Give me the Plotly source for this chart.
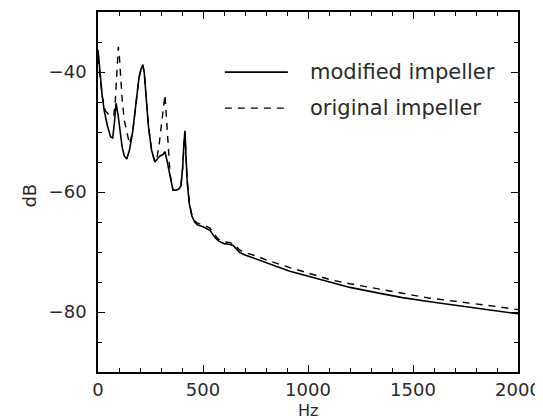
import plotly.graph_objects as go

freq_mod = [0, 5, 10, 20, 30, 45, 60, 70, 78, 86, 95, 105, 115, 125, 137, 150, 165, 180, 195, 205,
            213, 220, 228, 240, 255, 271, 282, 295, 308, 319, 330, 343, 357, 370, 385, 395, 403, 409,
            414, 419, 425, 435, 447, 460, 475, 500, 533, 557, 575, 600, 625, 643, 660, 676, 700, 730,
            756, 800, 851, 914, 1000, 1105, 1200, 1343, 1450, 1581, 1700, 1819, 1900, 2000]
db_mod = [-36.3, -38.5, -40.5, -44, -46.5, -49, -50.8, -51, -48.5, -45.2, -47, -50, -52.5, -54, -54.5,
          -53, -50, -45.5, -41, -39.5, -38.8, -40, -44, -49, -53, -55, -54.5, -54, -53.8, -53.3, -55,
          -57, -59.7, -59.7, -59.5, -59, -56, -52, -49.8, -54, -58.5, -62, -64, -65, -65.5, -65.8,
          -66.4, -67.6, -68.2, -68.6, -68.7, -68.9, -69.6, -70.1, -70.5, -70.9, -71.2, -71.8, -72.4,
          -73.2, -74.0, -75.1, -75.9, -76.9, -77.6, -78.3, -78.9, -79.4, -79.8, -80.3]

freq_orig = [0, 8, 20, 35, 50, 65, 75, 82, 88, 93, 97, 102, 108, 115, 125, 137, 150, 165, 180, 195,
             205, 213, 220, 228, 240, 255, 271, 282, 290, 298, 305, 312, 319, 325, 331, 337, 343, 357,
             370, 385, 395, 403, 409, 414, 419, 425, 435, 447, 460, 475, 500, 533, 557, 575, 600, 625,
             643, 660, 676, 700, 730, 756, 800, 851, 914, 1000, 1105, 1200, 1343, 1450, 1581, 1700,
             1819, 1900, 2000]
db_orig = [-37.5, -40.5, -44, -46.5, -47, -47, -47.3, -45, -41, -37, -35.8, -37.5, -41, -44.5, -48,
           -50, -52, -50, -45.5, -41, -39.5, -38.8, -40, -44, -49, -53, -55, -54, -52.5, -50, -48,
           -45.5, -43.8, -47, -51, -54.5, -57, -59.7, -59.7, -59.5, -59, -56, -52, -50, -54, -58,
           -61.8, -63.8, -64.8, -65.2, -65.5, -66, -67.2, -67.9, -68.3, -68.4, -68.6, -69.2, -69.7,
           -70.1, -70.4, -70.7, -71.3, -71.9, -72.6, -73.5, -74.6, -75.3, -76.2, -76.9, -77.7, -78.2,
           -78.7, -79.1, -79.6]

x_ticks = [0, 500, 1000, 1500, 2000]
y_ticks = [-80, -60, -40]
series_names = ["modified impeller", "original impeller"]

FONT = "DejaVu Sans"
TXT = "#2a2a2a"
DASH = "7px,6px"

fig = go.Figure()
fig.add_trace(go.Scatter(x=freq_mod, y=db_mod, mode="lines", name=series_names[0],
                         showlegend=False, line=dict(color="black", width=1.6)))
fig.add_trace(go.Scatter(x=freq_orig, y=db_orig, mode="lines", name=series_names[1],
                         showlegend=False, line=dict(color="black", width=1.4, dash=DASH)))

axis_common = dict(
    showline=True, linecolor="black", linewidth=1.6, mirror="ticks",
    ticks="inside", ticklen=7, tickwidth=1.3, tickcolor="black",
    showgrid=False, zeroline=False, automargin=False,
    tickfont=dict(family=FONT, size=18, color=TXT),
)

fig.update_xaxes(range=[0, 2000], tickvals=x_ticks, ticktext=[str(v) for v in x_ticks],
                 minor=dict(dtick=100, ticks="inside", ticklen=4, tickwidth=1.1, tickcolor="black"),
                 ticklabelstandoff=1,
                 **axis_common)
fig.update_yaxes(range=[-90, -30], tickvals=y_ticks, ticktext=["\u221280", "\u221260", "\u221240"],
                 minor=dict(dtick=5, ticks="inside", ticklen=4, tickwidth=1.1, tickcolor="black"),
                 ticklabelstandoff=6,
                 **axis_common)

# axis titles
fig.add_annotation(xref="paper", yref="paper", x=0.5, y=-0.107, text="Hz", showarrow=False,
                   xanchor="center", yanchor="middle", font=dict(family=FONT, size=16, color=TXT))
fig.add_annotation(xref="paper", yref="paper", x=-0.162, y=0.49, text="dB", showarrow=False,
                   textangle=-90, xanchor="center", yanchor="middle",
                   font=dict(family=FONT, size=18, color=TXT))

# legend (drawn in the upper right of the plot area)
legend_rows = [(0.833, "solid"), (0.733, DASH)]
for (yy, dash), name in zip(legend_rows, series_names):
    fig.add_shape(type="line", xref="paper", yref="paper", x0=0.302, x1=0.452, y0=yy, y1=yy,
                  line=dict(color="black", width=1.6 if dash == "solid" else 1.4, dash=dash))
    fig.add_annotation(xref="paper", yref="paper", x=0.50, y=yy, text=name, showarrow=False,
                       xanchor="left", yanchor="middle",
                       font=dict(family=FONT, size=21, color=TXT))

# the page body has an 8px margin, so the figure is sized to fit inside it
fig.update_layout(
    width=535, height=411,
    margin=dict(l=90, r=25, t=4, b=47),
    paper_bgcolor="white", plot_bgcolor="white",
    showlegend=False,
)

fig.write_html("out.html")
